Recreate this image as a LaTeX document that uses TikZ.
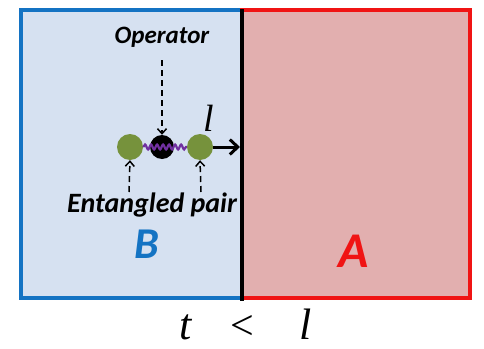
\documentclass[tikz,border=0pt]{standalone}
\usepackage{fontspec}
\setmainfont{Liberation Serif}
\newfontfamily\labelfont{Carlito}
\usetikzlibrary{arrows.meta,decorations.pathmorphing}
\definecolor{regionB}{RGB}{214,225,241}
\definecolor{regionA}{RGB}{226,175,175}
\definecolor{edgeB}{RGB}{20,115,195}
\definecolor{edgeA}{RGB}{240,20,20}
\definecolor{particle}{RGB}{118,146,60}
\definecolor{spring}{RGB}{112,48,160}
\tikzset{
  px/.style={x=1pt,y=-1pt},
  tag/.style={font=\labelfont\bfseries\itshape\fontsize{25}{25}\selectfont, inner sep=0pt},
  ball/.style={circle, fill=particle, minimum size=26pt, inner sep=0pt},
  core/.style={circle, fill=black, minimum size=24pt, inner sep=0pt},
  pointer/.style={dash pattern=on 6pt off 4pt, line width=1.5pt, -{Straight Barb[length=5pt,width=9pt]}},
  mathlabel/.style={font=\itshape\fontsize{44}{44}\selectfont, inner sep=0pt}
}
\begin{document}
\begin{tikzpicture}[px]
\useasboundingbox (0,0) rectangle (484,348);
% the two regions
\filldraw[fill=regionB, draw=edgeB, line width=3.5pt] (21,10) rectangle (242,298);
\filldraw[fill=regionA, draw=edgeA, line width=3.5pt] (242,10) rectangle (470,298);
\draw[line width=3.5pt] (242,9) -- (242,301);
% particles
\node[core] (op) at (162,147) {};
\node[ball] (left) at (130,147) {};
\node[ball] (right) at (200,147) {};
\draw[spring, line width=2.2pt, decorate, decoration={snake, amplitude=2.5pt, segment length=6pt}] (left.east) -- (right.west);
\coordinate (wall) at (240,147);
\draw[line width=3pt, -{Straight Barb[length=8pt,width=15pt]}] (right.east) -- (wall);
\node[font=\itshape\fontsize{38}{38}\selectfont, inner sep=0pt] (ell) at (209,118) {l};
% labels
\node[tag] (opname) at (162,37) {Operator};
\coordinate (optop) at (162,60);
\draw[pointer] (optop) -- (op.north);
\node[tag, font=\labelfont\bfseries\itshape\fontsize{28}{28}\selectfont] (pair) at (152,205) {Entangled pair};
\coordinate (lp) at (129,192);
\coordinate (rp) at (201,192);
\draw[pointer] (lp) -- (left.south);
\draw[pointer] (rp) -- (right.south);
\node[font=\labelfont\bfseries\itshape\fontsize{44}{44}\selectfont, text=edgeB, inner sep=0pt] (B) at (147,244) {B};
\node[font=\labelfont\bfseries\itshape\fontsize{50}{50}\selectfont, text=edgeA, inner sep=0pt] (A) at (354,251) {A};
% inequality below
\node[mathlabel] (t) at (186,327) {t};
\node[font=\fontsize{42}{42}\selectfont, inner sep=0pt] (lt) at (242,327) {<};
\node[mathlabel] (l2) at (306,324) {l};
\end{tikzpicture}
\end{document}
